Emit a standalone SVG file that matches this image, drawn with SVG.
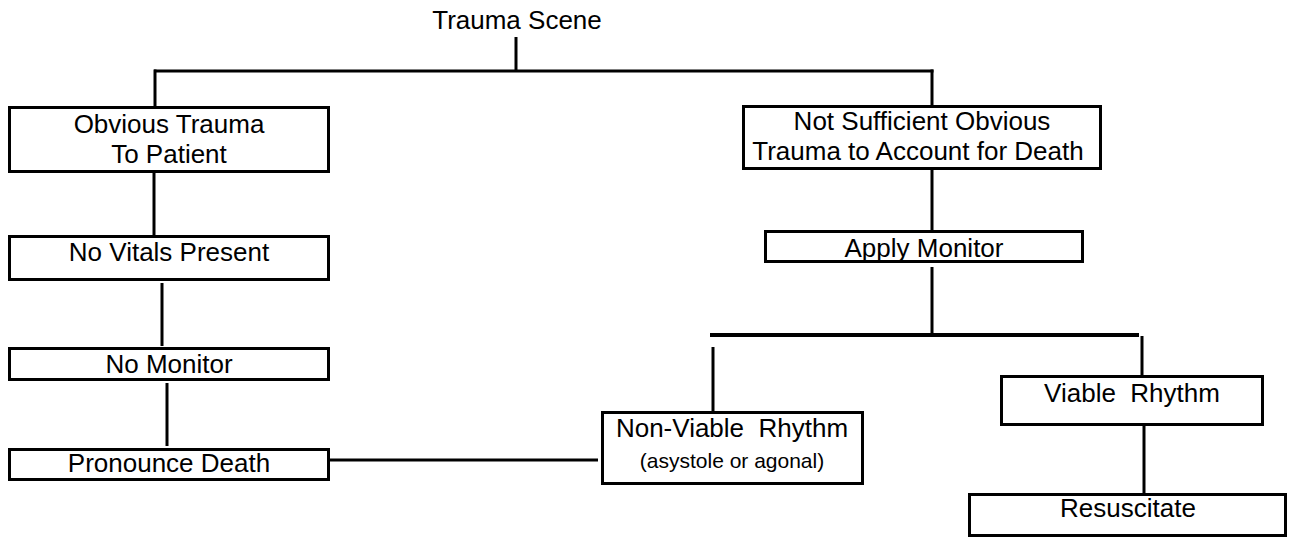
<svg xmlns="http://www.w3.org/2000/svg" width="1298" height="538" viewBox="0 0 1298 538">
<style>
.box{fill:#fff;stroke:#000;stroke-width:3}
.t{font-family:"Liberation Sans",Arial,sans-serif;font-size:26px;fill:#000;text-anchor:middle;white-space:pre}
.s{font-size:21px}
.c{stroke:#000;stroke-width:3;fill:none}
.ct{stroke:#000;stroke-width:4;fill:none}
</style>
<rect width="1298" height="538" fill="#fff"/>
<g id="connectors">
<line class="c" x1="516" y1="37" x2="516" y2="71"/>
<line class="c" x1="154" y1="71" x2="933.5" y2="71"/>
<line class="c" x1="155" y1="69.5" x2="155" y2="106"/>
<line class="c" x1="932" y1="69.5" x2="932" y2="106"/>
<line class="c" x1="154" y1="172" x2="154" y2="236"/>
<line class="c" x1="162" y1="283" x2="162" y2="346"/>
<line class="c" x1="167" y1="383" x2="167" y2="446"/>
<line class="c" x1="330" y1="460" x2="598" y2="460"/>
<line class="c" x1="932" y1="166" x2="932" y2="231"/>
<line class="c" x1="932" y1="267" x2="932" y2="334"/>
<line class="ct" x1="710" y1="335" x2="1139" y2="335"/>
<line class="c" x1="1142" y1="336" x2="1142" y2="376"/>
<line class="c" x1="713" y1="347" x2="713" y2="411"/>
<line class="c" x1="1144" y1="426" x2="1144" y2="493"/>
</g>
<g id="trauma-scene">
<text class="t" x="517" y="29">Trauma Scene</text>
</g>
<g id="obvious-trauma">
<rect class="box" x="9.5" y="107.5" width="319" height="64"/>
<text class="t" x="169" y="133">Obvious Trauma</text>
<text class="t" x="169" y="163">To Patient</text>
</g>
<g id="not-sufficient">
<rect class="box" x="743.5" y="106.5" width="357" height="62"/>
<text class="t" x="922" y="130">Not Sufficient Obvious</text>
<text class="t" x="918" y="160">Trauma to Account for Death</text>
</g>
<g id="no-vitals">
<rect class="box" x="9.5" y="236.5" width="319" height="43"/>
<text class="t" x="169" y="261">No Vitals Present</text>
</g>
<g id="no-monitor">
<rect class="box" x="9.5" y="348.5" width="319" height="31"/>
<text class="t" x="169" y="373">No Monitor</text>
</g>
<g id="pronounce-death">
<rect class="box" x="9.5" y="449.5" width="319" height="30"/>
<text class="t" x="169" y="472">Pronounce Death</text>
</g>
<g id="apply-monitor">
<rect class="box" x="765.5" y="231.5" width="317" height="30"/>
<text class="t" x="924" y="257">Apply Monitor</text>
</g>
<g id="non-viable">
<rect class="box" x="602.5" y="412.5" width="260" height="71"/>
<text class="t" x="732" y="437">Non-Viable  Rhythm</text>
<text class="t s" x="732" y="468">(asystole or agonal)</text>
</g>
<g id="viable">
<rect class="box" x="1001.5" y="376.5" width="261" height="48"/>
<text class="t" x="1132" y="402">Viable  Rhythm</text>
</g>
<g id="resuscitate">
<rect class="box" x="969.5" y="494.5" width="316" height="41"/>
<text class="t" x="1128" y="517">Resuscitate</text>
</g>
</svg>
